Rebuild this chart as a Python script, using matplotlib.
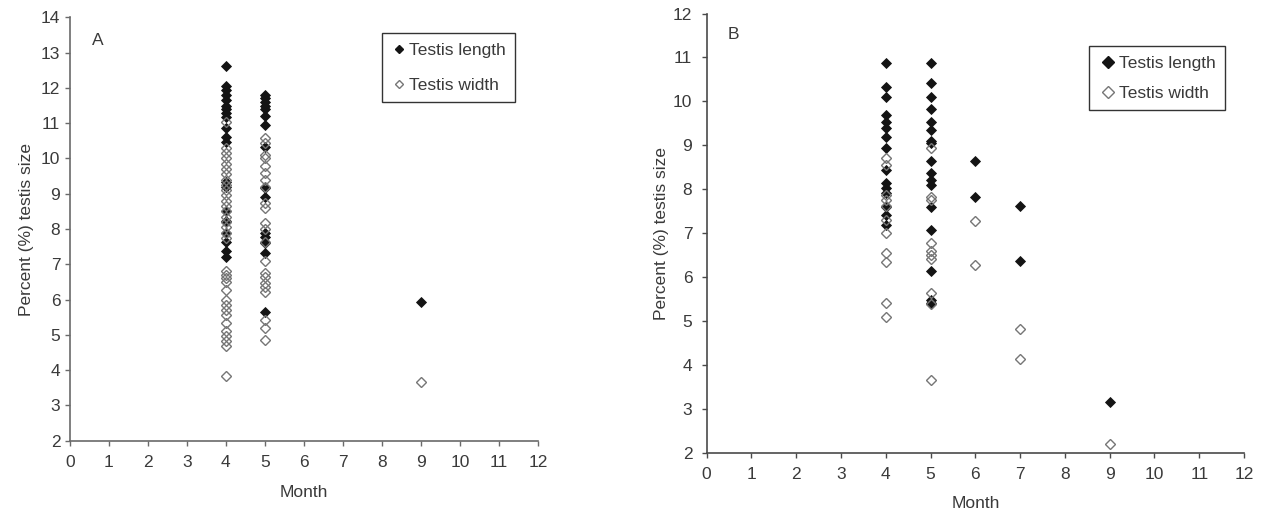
import matplotlib
matplotlib.use("Agg")
import matplotlib.pyplot as plt
from matplotlib.lines import Line2D

plt.rcParams['font.family'] = ['Liberation Sans', 'DejaVu Sans']

# ---------------- Data: Panel A ----------------
a_len_m4 = [12.62, 12.05, 11.95, 11.8, 11.65, 11.5, 11.4, 11.3, 11.18, 10.86,
            10.6, 10.47, 9.32, 9.2, 8.5, 8.22, 7.9, 7.64, 7.38, 7.22]
a_wid_m4 = [11.04, 10.3, 10.15, 10.0, 9.85, 9.7, 9.55, 9.4, 9.25, 9.1, 8.95, 8.8,
            8.65, 8.5, 8.35, 8.2, 8.05, 7.9, 7.75, 6.8, 6.7, 6.6, 6.5, 6.27,
            6.0, 5.85, 5.7, 5.55, 5.34, 5.1, 4.98, 4.82, 4.68, 3.82]
a_len_m5 = [11.8, 11.7, 11.6, 11.5, 11.4, 11.2, 10.95, 10.33, 9.16, 8.9,
            7.9, 7.78, 7.6, 7.32, 5.66]
a_wid_m5 = [10.58, 10.45, 10.1, 10.0, 9.8, 9.6, 9.4, 9.2, 8.75, 8.6, 8.17, 8.0,
            7.64, 7.08, 6.75, 6.65, 6.48, 6.36, 6.22, 5.42, 5.2, 4.86]
a_len_m9 = [5.92]
a_wid_m9 = [3.65]

# ---------------- Data: Panel B ----------------
b_len_m4 = [10.87, 10.33, 10.11, 9.69, 9.54, 9.39, 9.2, 8.93, 8.44, 8.14,
            8.02, 7.92, 7.6, 7.42, 7.19]
b_wid_m4 = [8.71, 8.55, 7.86, 7.75, 7.62, 7.3, 7.0, 6.55, 6.35, 5.41, 5.1]
b_len_m5 = [10.87, 10.42, 10.1, 9.82, 9.54, 9.35, 9.1, 9.05, 8.64, 8.37,
            8.22, 8.1, 7.6, 7.07, 6.15, 5.47, 5.42]
b_wid_m5 = [8.95, 7.83, 7.75, 6.77, 6.6, 6.5, 6.42, 5.65, 5.4, 3.67]
b_len_m6 = [8.65, 7.83]
b_wid_m6 = [7.28, 6.27]
b_len_m7 = [7.62, 6.37]
b_wid_m7 = [4.83, 4.13]
b_len_m9 = [3.17]
b_wid_m9 = [2.2]

x_ticks = list(range(0, 13))
legend_labels = ["Testis length", "Testis width"]

TXT = '#3a3a3a'
FILL = '#141414'
OPEN = '#767676'
FS = 12.5

fig = plt.figure(figsize=(12.63, 5.14), dpi=100)
axA = fig.add_axes([0.0552, 0.1426, 0.3708, 0.8237])
axB = fig.add_axes([0.5595, 0.1187, 0.4255, 0.8550])


def style(ax, ylim, axcol, ypad):
    ax.set_xlim(0, 12)
    ax.set_ylim(*ylim)
    ax.set_xticks(x_ticks)
    ax.set_yticks(range(ylim[0], ylim[1] + 1))
    for s in ['top', 'right']:
        ax.spines[s].set_visible(False)
    for s in ['left', 'bottom']:
        ax.spines[s].set_color(axcol)
        ax.spines[s].set_linewidth(1.2)
    ax.tick_params(direction='out', length=3.6, width=1.0, color=axcol,
                   labelsize=FS, labelcolor=TXT)
    ax.tick_params(axis='x', pad=6.5)
    ax.tick_params(axis='y', pad=ypad)


def scatter_groups(ax, len_groups, wid_groups, ms):
    for m, vals in len_groups:
        ax.plot([m] * len(vals), vals, linestyle='none', marker='D',
                markersize=ms, markerfacecolor=FILL, markeredgecolor=FILL,
                markeredgewidth=0.6, clip_on=False, zorder=3)
    for m, vals in wid_groups:
        ax.plot([m] * len(vals), vals, linestyle='none', marker='D',
                markersize=ms, markerfacecolor='none', markeredgecolor=OPEN,
                markeredgewidth=1.0, clip_on=False, zorder=4)


# ---- Panel A ----
style(axA, (2, 14), '#6a6a6a', 3.2)
scatter_groups(axA,
               [(4, a_len_m4), (5, a_len_m5), (9, a_len_m9)],
               [(4, a_wid_m4), (5, a_wid_m5), (9, a_wid_m9)], 5.0)
axA.set_xlabel("Month", fontsize=FS, color=TXT, labelpad=11)
axA.set_ylabel("Percent (%) testis size", fontsize=FS, color=TXT, labelpad=5)
axA.text(0.71, 13.33, "A", fontsize=FS, color=TXT, ha='center', va='center')

# ---- Panel B ----
style(axB, (2, 12), '#4a4a4a', 6.7)
scatter_groups(axB,
               [(4, b_len_m4), (5, b_len_m5), (6, b_len_m6), (7, b_len_m7), (9, b_len_m9)],
               [(4, b_wid_m4), (5, b_wid_m5), (6, b_wid_m6), (7, b_wid_m7), (9, b_wid_m9)], 5.3)
axB.set_xlabel("Month", fontsize=FS, color=TXT, labelpad=10)
axB.set_ylabel("Percent (%) testis size", fontsize=FS, color=TXT, labelpad=2.5)
axB.text(0.587, 11.52, "B", fontsize=FS, color=TXT, ha='center', va='center')


def add_legend(ax, anchor, ms, hl, tp, ls):
    h = [Line2D([], [], linestyle='none', marker='D', markersize=ms,
                markerfacecolor=FILL, markeredgecolor=FILL),
         Line2D([], [], linestyle='none', marker='D', markersize=ms,
                markerfacecolor='white', markeredgecolor=OPEN, markeredgewidth=1.0)]
    leg = ax.legend(h, legend_labels, loc='upper left', bbox_to_anchor=anchor,
                    fontsize=FS, frameon=True, fancybox=False, framealpha=1,
                    edgecolor='#333333', handlelength=hl, handletextpad=tp,
                    borderpad=0.55, labelspacing=ls, borderaxespad=0)
    leg.get_frame().set_linewidth(1.0)
    for t in leg.get_texts():
        t.set_color(TXT)
    return leg


add_legend(axA, (0.667, 0.963), 4.2, 0.8, 0.2, 1.15)
add_legend(axB, (0.7115, 0.926), 6.0, 1.1, 0.05, 0.86)

fig.savefig("out.png", dpi=100)
